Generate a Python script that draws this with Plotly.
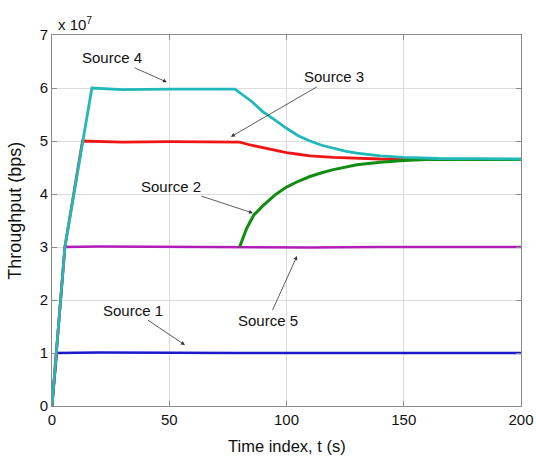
import plotly.graph_objects as go

# Values in units of 1e7 bps
t_s1 = [0, 2, 20, 50, 80, 110, 140, 170, 200]
y_s1 = [0, 1.0, 1.01, 1.0, 1.0, 1.0, 1.0, 1.0, 1.0]

t_s5 = [0, 5.5, 20, 50, 80, 110, 140, 170, 200]
y_s5 = [0, 3.0, 3.01, 3.0, 3.0, 2.99, 3.0, 3.0, 3.0]

t_s3 = [0, 5.5, 13, 30, 50, 80, 85, 90, 95, 100, 105, 110, 120, 130, 140, 170, 200]
y_s3 = [0, 3.0, 5.0, 4.98, 4.99, 4.98, 4.92, 4.87, 4.82, 4.78, 4.75, 4.72, 4.69, 4.67, 4.66, 4.65, 4.65]

t_s2 = [80, 83, 86, 90, 95, 100, 105, 110, 115, 120, 130, 140, 150, 160, 200]
y_s2 = [3.0, 3.35, 3.6, 3.78, 3.98, 4.13, 4.24, 4.33, 4.40, 4.46, 4.55, 4.60, 4.63, 4.65, 4.65]

t_s4 = [0, 5.5, 17, 30, 50, 78, 85, 90, 95, 100, 105, 110, 115, 120, 125, 130, 140, 150, 165, 200]
y_s4 = [0, 3.0, 6.0, 5.97, 5.98, 5.98, 5.75, 5.55, 5.40, 5.24, 5.10, 5.00, 4.92, 4.86, 4.81, 4.77, 4.72, 4.69, 4.67, 4.66]

x_ticks = [0, 50, 100, 150, 200]
y_ticks = [0, 1, 2, 3, 4, 5, 6, 7]

FONT = "Liberation Sans, Arial, sans-serif"
INK = "#111111"

fig = go.Figure()
fig.add_trace(go.Scatter(x=t_s1, y=y_s1, mode="lines", line=dict(color="#1a1acc", width=2.6), name="Source 1"))
fig.add_trace(go.Scatter(x=t_s5, y=y_s5, mode="lines", line=dict(color="#b21cb8", width=2.6), name="Source 5"))
fig.add_trace(go.Scatter(x=t_s3, y=y_s3, mode="lines", line=dict(color="#ee1515", width=2.8), name="Source 3"))
fig.add_trace(go.Scatter(x=t_s2, y=y_s2, mode="lines", line=dict(color="#128c12", width=3), name="Source 2"))
fig.add_trace(go.Scatter(x=t_s4, y=y_s4, mode="lines", line=dict(color="#22b8b8", width=2.8), name="Source 4"))

labels = [
    ("Source 4", 49, 6.11, 25.6, 6.57),
    ("Source 3", 76.3, 5.08, 120.3, 6.21),
    ("Source 2", 85.7, 3.64, 50.7, 4.15),
    ("Source 1", 56.7, 1.15, 34.5, 1.81),
    ("Source 5", 104.5, 2.83, 92.1, 1.62),
]
for txt, hx, hy, tx, ty in labels:
    fig.add_annotation(x=hx, y=hy, ax=tx, ay=ty, axref="x", ayref="y", xref="x", yref="y",
                       text=txt, showarrow=True, arrowhead=2, arrowsize=1, arrowwidth=0.8,
                       arrowcolor="#333333", standoff=0, startstandoff=0,
                       font=dict(family=FONT, size=15, color=INK))

fig.add_annotation(xref="paper", yref="paper", x=0.0, y=1.0, xanchor="left", yanchor="bottom",
                   text="x 10<sup>7</sup>", showarrow=False, xshift=4,
                   font=dict(family=FONT, size=15, color=INK))

# axis titles
fig.add_annotation(xref="paper", yref="paper", x=0.5, y=-0.108, xanchor="center", yanchor="middle",
                   text="Time index, t (s)", showarrow=False,
                   font=dict(family=FONT, size=16.5, color=INK))
fig.add_annotation(xref="paper", yref="paper", x=-0.079, y=0.526, xanchor="center", yanchor="middle",
                   text="Throughput (bps)", showarrow=False, textangle=-90,
                   font=dict(family=FONT, size=18, color=INK))

axis_common = dict(showgrid=True, gridcolor="#dcdcdc", gridwidth=1, showline=True, linecolor="#8a8a8a",
                   linewidth=1, mirror="ticks", ticks="inside", ticklen=5, tickcolor="#8a8a8a",
                   zeroline=False, automargin=False,
                   tickfont=dict(family=FONT, size=15, color=INK))

fig.update_xaxes(range=[0, 200], tickvals=x_ticks, ticktext=[str(v) for v in x_ticks], **axis_common)
fig.update_yaxes(range=[0, 7], tickvals=y_ticks, ticktext=[str(v) for v in y_ticks], **axis_common)

fig.update_layout(width=536, height=457, margin=dict(l=52, r=15, t=35, b=51),
                  plot_bgcolor="white", paper_bgcolor="white", showlegend=False)

fig.write_html("out.html")
